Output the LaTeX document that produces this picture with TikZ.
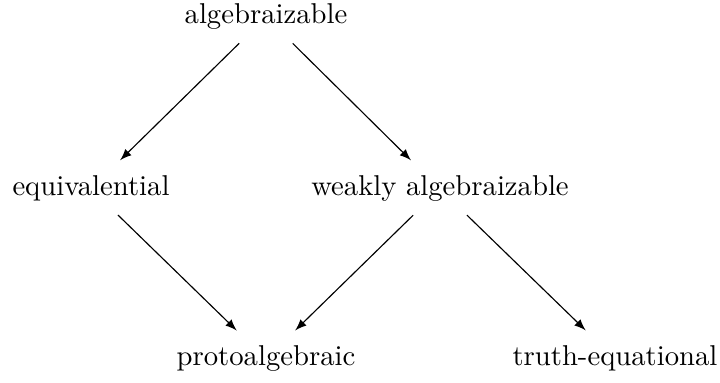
\documentclass[tikz,border=0pt]{standalone}
\begin{document}
\begin{tikzpicture}[x=0.01225cm, y=-0.01225cm]
  \def \xa{91}
  \def \xb{266}
  \def \xc{440}
  \def \xd{615}
  \def \ya{24}
  \def \yb{196}
  \def \yc{366}
  \useasboundingbox (0,0) rectangle (720,383);

  \node[anchor=base] (alg) at (\xb,\ya) {algebraizable};
  \node[anchor=base] (equiv) at (\xa,\yb) {equivalential};
  \node[anchor=base] (weak) at (\xc,\yb) {weakly algebraizable};
  \node[anchor=base] (proto) at (\xb,\yc) {protoalgebraic};
  \node[anchor=base] (truth) at (\xd,\yc) {truth-equational};

  \draw[-latex, shorten <=0.46cm, shorten >=0.5cm] (alg.center) -- (equiv.center);
  \draw[-latex, shorten <=0.46cm, shorten >=0.5cm] (alg.center) -- (weak.center);
  \draw[-latex, shorten <=0.46cm, shorten >=0.5cm] (equiv.center) -- (proto.center);
  \draw[-latex, shorten <=0.46cm, shorten >=0.5cm] (weak.center) -- (proto.center);
  \draw[-latex, shorten <=0.46cm, shorten >=0.5cm] (weak.center) -- (truth.center);
\end{tikzpicture}
\end{document}
